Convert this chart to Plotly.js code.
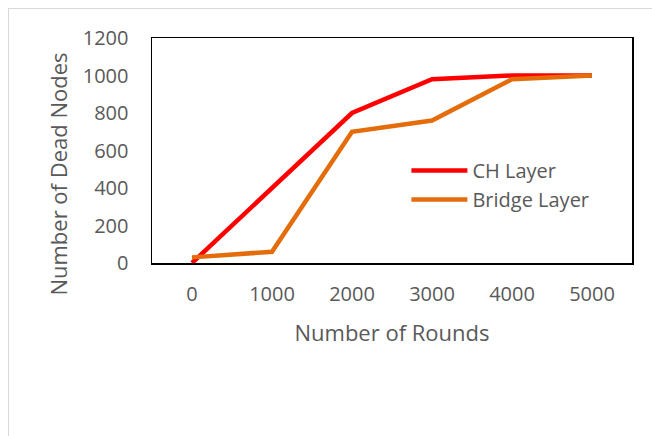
<!DOCTYPE html>
<html>
<head>
<meta charset="utf-8">
<script src="https://cdn.plot.ly/plotly-3.0.1.min.js"></script>
<style>
  html, body { margin: 0; padding: 0; background: #fff; }
  #wrap { position: relative; width: 652px; height: 436px; overflow: hidden; }
  #frame { position: absolute; left: 8px; top: 8px; width: 700px; height: 500px; border: 1px solid #d9d9d9; box-sizing: border-box; }
  #chart { position: absolute; left: 0; top: 0; width: 652px; height: 436px; }
</style>
</head>
<body>
<div id="wrap">
  <div id="frame"></div>
  <div id="chart"></div>
</div>
<script>
const rounds = ["0", "1000", "2000", "3000", "4000", "5000"];
const chLayer = [0, 400, 800, 980, 1000, 1000];
const bridgeLayer = [30, 60, 700, 760, 980, 1000];
const yTicks = [0, 200, 400, 600, 800, 1000, 1200];

const fontFam = "Open Sans, Liberation Sans, sans-serif";
const gray = "#595959";

const traces = [
  { x: rounds, y: chLayer, name: "CH Layer", type: "scatter", mode: "lines",
    line: { color: "#FF0000", width: 4.5 }, cliponaxis: false },
  { x: rounds, y: bridgeLayer, name: "Bridge Layer", type: "scatter", mode: "lines",
    line: { color: "#E46C0A", width: 4.5 }, cliponaxis: false }
];

const layout = {
  width: 652, height: 436,
  margin: { l: 152, r: 20, t: 38, b: 173 },
  paper_bgcolor: "rgba(0,0,0,0)",
  plot_bgcolor: "rgba(0,0,0,0)",
  font: { family: fontFam, color: gray, size: 20 },
  xaxis: {
    type: "category", range: [-0.5, 5.5],
    showgrid: false, zeroline: false,
    showline: true, mirror: true, linecolor: "#000", linewidth: 1.5,
    ticks: "", ticklabelstandoff: 12,
    tickfont: { size: 20, color: gray, family: fontFam },
    title: { text: "Number of Rounds", font: { size: 22, color: gray, family: fontFam }, standoff: 20 }
  },
  yaxis: {
    range: [0, 1200], tickvals: yTicks,
    showgrid: false, zeroline: false,
    showline: true, mirror: true, linecolor: "#000", linewidth: 1.5,
    ticks: "", ticklabelstandoff: 18,
    tickfont: { size: 20, color: gray, family: fontFam }
  },
  annotations: [{
    text: "Number of Dead Nodes", textangle: -90,
    xref: "paper", yref: "paper", x: -0.196, y: 0.397,
    xanchor: "center", yanchor: "middle", showarrow: false,
    font: { size: 22, color: gray, family: fontFam }
  }],
  showlegend: true,
  legend: {
    x: 0.53, y: 0.498, xanchor: "left", yanchor: "top",
    itemwidth: 56,
    bgcolor: "rgba(0,0,0,0)", borderwidth: 0,
    font: { size: 20, color: gray, family: fontFam }
  }
};

Plotly.newPlot("chart", traces, layout, { displayModeBar: false, staticPlot: true });
</script>
</body>
</html>
